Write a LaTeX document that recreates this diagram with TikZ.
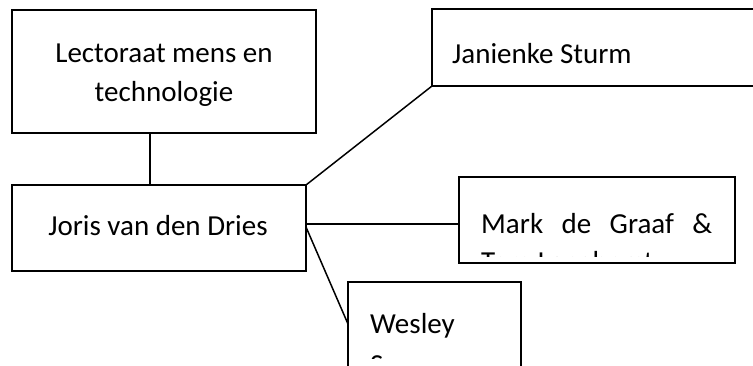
\documentclass[tikz,border=0pt]{standalone}
\usepackage{fontspec}
\setmainfont{Carlito}
\begin{document}
\begin{tikzpicture}[x=1pt,y=-1pt,
  box/.style={draw,line width=1.5pt,rectangle,inner sep=0pt,outer sep=0pt,anchor=north west},
  txt/.style={inner sep=0pt,anchor=base west,font=\fontsize{29}{39}\selectfont},
  link/.style={line width=1.5pt}]
\useasboundingbox (0,0) rectangle (753,365);
\clip (0,0) rectangle (753,365);
\fill[white] (0,0) rectangle (753,365);
% boxes
\node[box,minimum width=304pt,minimum height=123pt] (lect) at (12,10) {};
\node[box,minimum width=294pt,minimum height=86pt] (joris) at (12,185) {};
\node[box,minimum width=340pt,minimum height=77pt] (jan) at (432,9) {};
\node[box,minimum width=276pt,minimum height=86pt] (mark) at (459,177) {};
\node[box,minimum width=173pt,minimum height=120pt] (wes) at (348,282) {};
% texts
\node[txt,anchor=base] (lectA) at (164,62) {Lectoraat mens en};
\node[txt,anchor=base] (lectB) at (164,101) {technologie};
\node[txt,anchor=base] (jorisT) at (158,235) {Joris van den Dries};
\node[txt] (janT) at (452,63) {Janienke Sturm};
\node[txt] (markA) at (481,233) {\makebox[231pt][s]{Mark de Graaf \&}};
\begin{scope}
  \clip (459,177) rectangle (735,256);
  \node[txt] (markB) at (481,271) {Tom Langhorst};
\end{scope}
\node[txt] (wesA) at (370,333) {Wesley};
\begin{scope}
  \clip (348,282) rectangle (521,358);
  \node[txt] (wesB) at (370,374) {S};
\end{scope}
% connectors
\draw[link] ([xshift=-14pt]lect.south) -- ([xshift=-9pt]joris.north);
\draw[link] (joris.north east) -- (jan.south west);
\draw[link] ([yshift=4pt]joris.east) -- ([yshift=-4pt]mark.west);
\draw[link] ([yshift=1pt]joris.east) -- ([yshift=18pt]wes.west);
\end{tikzpicture}
\end{document}
